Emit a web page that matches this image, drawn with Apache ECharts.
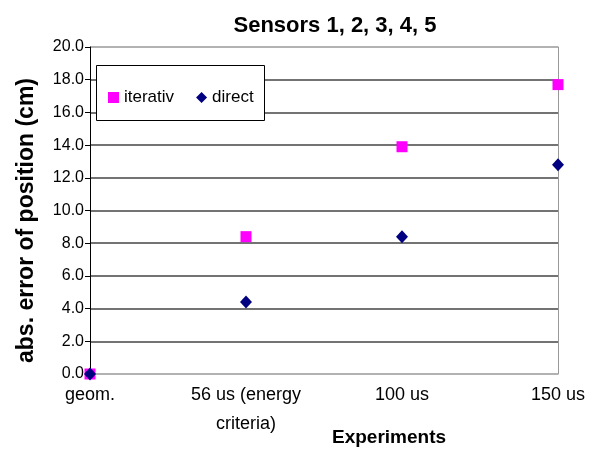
<!DOCTYPE html>
<html>
  <head>
    <meta charset="UTF-8" />
    <title>Sensors 1, 2, 3, 4, 5</title>
    <style>
      html, body { margin: 0; padding: 0; background: #fff; }
      #chart { width: 595px; height: 450px; }
    </style>
    <script src="https://cdn.jsdelivr.net/npm/echarts@6/dist/echarts.min.js"></script>
  </head>
  <body>
    <div id="chart"></div>
    <script>
      // data
      var experiments = ["geom.", "56 us (energy\ncriteria)", "100 us", "150 us"];
      var iterativ = [0.0, 8.4, 13.9, 17.7];
      var direct = [0.0, 4.4, 8.4, 12.8];

      var font = "Arial, 'Liberation Sans', sans-serif";
      var gridColors = ["#999"];
      for (var i = 1; i < 10; i++) gridColors.push("#444");
      gridColors.push("#999");

      var myChart = echarts.init(document.getElementById("chart"));

      var option = {
        backgroundColor: "#fff",
        animation: false,
        textStyle: { fontFamily: font, color: "#000" },
        title: [
          {
            text: "Sensors 1, 2, 3, 4, 5",
            left: 330,
            textAlign: "center",
            top: 10,
            textStyle: { fontSize: 22, fontWeight: "bold", color: "#000", fontFamily: font }
          },
          {
            // x axis title, placed like the original (right of centre)
            text: "Experiments",
            left: 389,
            textAlign: "center",
            top: 428,
            padding: 0,
            textStyle: { fontSize: 19, fontWeight: "bold", color: "#000", fontFamily: font }
          }
        ],
        graphic: [
          {
            type: "rect",
            z: 50,
            shape: { x: 96.5, y: 65.5, width: 168, height: 55 },
            style: { fill: "#fff", stroke: "#000", lineWidth: 1 }
          }
        ],
        legend: {
          z: 60,
          left: 103,
          top: 84,
          itemWidth: 11,
          itemHeight: 11,
          itemGap: 22,
          textStyle: { fontSize: 17, color: "#000", fontFamily: font },
          data: [
            { name: "iterativ", icon: "rect" },
            { name: "direct", icon: "path://M5,0L10,5L5,10L0,5Z" }
          ]
        },
        grid: { left: 90, right: 37, top: 47, bottom: 76, outerBoundsMode: "none", containLabel: false },
        xAxis: {
          type: "category",
          data: experiments,
          boundaryGap: false,
          axisLine: { show: false },
          axisTick: { show: false },
          axisLabel: {
            fontSize: 18,
            color: "#000",
            lineHeight: 29,
            margin: 7,
            interval: 0
          },
          splitLine: { show: false }
        },
        yAxis: [
          {
            type: "value",
            min: 0,
            max: 20,
            interval: 2,
            name: "abs. error of position (cm)",
            nameLocation: "middle",
            nameGap: 52,
            nameRotate: 90,
            nameTextStyle: {
              fontSize: 23,
              fontWeight: "bold",
              color: "#000",
              fontFamily: font,
              padding: [0, 20, 0, 0]
            },
            axisLine: { show: true, lineStyle: { color: "#000", width: 1 } },
            axisTick: { show: true, length: 5, lineStyle: { color: "#000" } },
            axisLabel: {
              fontSize: 16,
              color: "#000",
              margin: 6,
              formatter: function (v) { return v.toFixed(1); }
            },
            splitLine: { show: true, lineStyle: { color: gridColors, width: 1.5 } }
          },
          {
            type: "value",
            min: 0,
            max: 20,
            interval: 2,
            position: "right",
            axisLine: { show: true, lineStyle: { color: "#999", width: 1 } },
            axisTick: { show: false },
            axisLabel: { show: false },
            splitLine: { show: false }
          }
        ],
        series: [
          {
            name: "iterativ",
            type: "line",
            data: iterativ,
            lineStyle: { width: 0, opacity: 0 },
            symbol: "rect",
            symbolSize: 11,
            itemStyle: { color: "#FF00FF" },
            z: 10
          },
          {
            name: "direct",
            type: "line",
            data: direct,
            lineStyle: { width: 0, opacity: 0 },
            symbol: "path://M5,0L10,5L5,10L0,5Z",
            symbolSize: [12, 13],
            itemStyle: { color: "#000080" },
            z: 11
          }
        ]
      };

      myChart.setOption(option);
    </script>
  </body>
</html>
